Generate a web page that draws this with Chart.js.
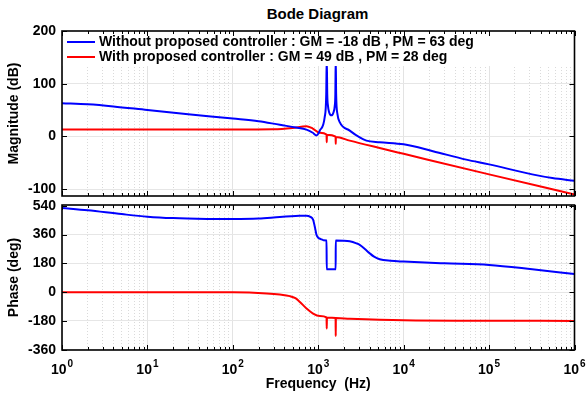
<!DOCTYPE html>
<html>
<head>
<meta charset="utf-8">
<script src="https://cdn.jsdelivr.net/npm/chart.js@4.4.1/dist/chart.umd.min.js"></script>
<style>
  html, body { margin: 0; padding: 0; background: #fff; }
  #wrap { position: relative; width: 586px; height: 398px; overflow: hidden; }
  #title { position: absolute; left: 217px; width: 201px; top: 5px; line-height: 17px;
           text-align: center; font: bold 15px "Liberation Sans", Arial, sans-serif; color: #000; }
  canvas { position: absolute; left: 0; }
  #magCanvas { top: 0; }
  #phaseCanvas { top: 200px; }
</style>
</head>
<body>
<div id="wrap">
  <div id="title">Bode Diagram</div>
  <canvas id="magCanvas" width="586" height="200"></canvas>
  <canvas id="phaseCanvas" width="586" height="198"></canvas>
</div>
<script>
/* Bode diagram: magnitude (top) and phase (bottom), log frequency axis 1 Hz .. 1 MHz
   Values. */

const FONT = '"Liberation Sans", Arial, sans-serif';
const BLUE = '#0000ff';
const RED = '#ff0000';

const legendLabels = [
  'Without proposed controller : GM = -18 dB , PM = 63 deg',
  'With proposed controller : GM = 49 dB , PM = 28 deg'
];

// axes
const decadeExponents = [0, 1, 2, 3, 4, 5, 6];
const minorMultipliers = [1, 2, 3, 4, 5, 6, 7, 8, 9];
const magTicks = [-100, 0, 100, 200];
const phaseTicks = [-360, -180, 0, 180, 360, 540];

// without controller: magnitude (dB)
const blueMagFreq = [1, 2, 4, 10, 30, 100, 200, 355, 550, 728, 863, 953, 1000, 1042, 1191, 1240, 1257, 1275, 1300, 1340, 1426, 1510, 1560, 1585, 1602, 1620, 1680, 1784, 2336, 3057, 3663, 5237, 10000, 22000, 54000, 100000, 320000, 550000, 1000000];
const blueMagDb   = [63, 61, 57, 50, 42, 34, 29, 22, 17, 13, 7, 2, 5, 11, 37, 80, 150, 80, 58, 46, 40, 46, 58, 80, 150, 80, 42, 27, 11, -2, -8, -11, -15, -28, -44, -53, -72, -79, -84];

// with controller: magnitude (dB)
const redMagFreq = [1, 100, 300, 500, 728, 863, 1042, 1250, 1257, 1264, 1595, 1602, 1609, 2336, 5237, 10000, 100000, 1000000];
const redMagDb   = [13, 13, 13.5, 16, 19.5, 15, 7, 3.5, -11, 3, -0.5, -14, -1, -8, -22, -33, -72, -110];

// without controller: phase (deg)
const bluePhFreq = [1, 2, 5, 10, 20, 50, 100, 200, 355, 600, 728, 800, 870, 910, 953, 1000, 1072, 1150, 1250, 1257, 1600, 1602, 2000, 2336, 2800, 3057, 3600, 4000, 4500, 5237, 7000, 10000, 30000, 100000, 320000, 1000000];
const bluePhDeg  = [527, 512, 488, 472, 463, 458, 457, 460, 470, 477, 478, 472, 453, 411, 359, 340, 332, 325, 323, 143, 143, 323, 322, 318, 305, 296, 265, 243, 222, 206, 196, 191, 180, 170, 143, 113];

// with controller: phase (deg)
const redPhFreq = [1, 100, 250, 355, 465, 540, 605, 728, 870, 1042, 1250, 1257, 1264, 1595, 1602, 1609, 2336, 10000, 100000, 1000000];
const redPhDeg  = [0, -1, -8, -15, -25, -38, -60, -102, -134, -149, -158, -228, -158, -162, -275, -162, -166, -176, -179, -180];

const xTickValues = [];
decadeExponents.forEach(e => {
  minorMultipliers.forEach(m => {
    const v = m * Math.pow(10, e);
    if (v <= 1e6) xTickValues.push(v);
  });
});

function isDecade(v) {
  const l = Math.log10(v);
  return Math.abs(l - Math.round(l)) < 1e-9;
}

function pts(xs, ys) {
  return xs.map((x, i) => ({ x: x, y: ys[i] }));
}

function series(data, color) {
  return {
    data: data,
    borderColor: color,
    borderWidth: 2,
    pointRadius: 0,
    fill: false,
    cubicInterpolationMode: 'monotone'
  };
}

// black box with inward tick marks on all four sides
const framePlugin = {
  id: 'frame',
  afterDraw(chart) {
    const { ctx, chartArea: a } = chart;
    const x = chart.scales.x, y = chart.scales.y;
    ctx.save();
    ctx.strokeStyle = '#000';
    ctx.lineWidth = 1;
    ctx.beginPath();
    x.ticks.forEach(t => {
      const px = Math.round(x.getPixelForValue(t.value)) + 0.5;
      const len = isDecade(t.value) ? 5 : 3;
      ctx.moveTo(px, a.top); ctx.lineTo(px, a.top + len);
      ctx.moveTo(px, a.bottom); ctx.lineTo(px, a.bottom - len);
    });
    y.ticks.forEach(t => {
      const py = Math.round(y.getPixelForValue(t.value)) + 0.5;
      ctx.moveTo(a.left, py); ctx.lineTo(a.left + 5, py);
      ctx.moveTo(a.right, py); ctx.lineTo(a.right - 5, py);
    });
    ctx.stroke();
    ctx.lineWidth = 1.6;
    ctx.strokeRect(a.left, a.top, a.right - a.left, a.bottom - a.top);
    ctx.restore();
  }
};

// legend sits inside the top plot on a white band
const legendPlugin = {
  id: 'insideLegend',
  afterDatasetsDraw(chart) {
    const { ctx, chartArea: a } = chart;
    ctx.save();
    ctx.fillStyle = '#fff';
    ctx.fillRect(a.left, a.top, a.right - a.left, 35);
    const rows = [
      { text: legendLabels[0], color: chart.data.datasets[0].borderColor, y: a.top + 11 },
      { text: legendLabels[1], color: chart.data.datasets[1].borderColor, y: a.top + 26 }
    ];
    ctx.font = 'bold 14px ' + FONT;
    ctx.textBaseline = 'middle';
    ctx.textAlign = 'left';
    rows.forEach(r => {
      ctx.strokeStyle = r.color;
      ctx.lineWidth = 2;
      ctx.beginPath();
      ctx.moveTo(a.left + 5, r.y);
      ctx.lineTo(a.left + 33, r.y);
      ctx.stroke();
      ctx.fillStyle = '#000';
      ctx.fillText(r.text, a.left + 37, r.y + 0.5);
    });
    ctx.restore();
  }
};

// 10^n labels with raised exponent under the phase plot
const decadeLabelPlugin = {
  id: 'decadeLabels',
  afterDraw(chart) {
    const { ctx, chartArea: a } = chart;
    const x = chart.scales.x;
    ctx.save();
    ctx.fillStyle = '#000';
    ctx.textBaseline = 'alphabetic';
    ctx.textAlign = 'left';
    decadeExponents.forEach(e => {
      const px = x.getPixelForValue(Math.pow(10, e));
      ctx.font = 'bold 14px ' + FONT;
      const wb = ctx.measureText('10').width;
      ctx.font = 'bold 10px ' + FONT;
      const we = ctx.measureText(String(e)).width;
      const x0 = px - (wb + we + 1) / 2;
      ctx.font = 'bold 14px ' + FONT;
      ctx.fillText('10', x0, a.bottom + 24);
      ctx.font = 'bold 10px ' + FONT;
      ctx.fillText(String(e), x0 + wb + 1, a.bottom + 17);
    });
    ctx.restore();
  }
};

function makeBode(canvas, opts) {
  return new Chart(canvas, {
    type: 'line',
    data: { datasets: opts.datasets },
    options: {
      responsive: false,
      animation: false,
      parsing: false,
      normalized: true,
      layout: { padding: opts.padding },
      plugins: { legend: { display: false }, tooltip: { enabled: false }, title: { display: false } },
      scales: {
        x: {
          type: 'logarithmic',
          min: 1,
          max: 1e6,
          afterBuildTicks: s => { s.ticks = xTickValues.map(v => ({ value: v })); },
          afterFit: s => { s.height = opts.xHeight; s.paddingLeft = 0; s.paddingRight = 0; },
          ticks: { display: false },
          grid: {
            drawTicks: false,
            lineWidth: 1,
            color: c => (c.tick && isDecade(c.tick.value)) ? '#e3e3e3' : '#dadada'
          },
          border: {
            display: false,
            dash: c => (c.tick && isDecade(c.tick.value)) ? [] : [1, 2]
          },
          title: opts.xTitle
            ? { display: true, text: opts.xTitle, color: '#000', font: { family: FONT, size: 14, weight: 'bold' }, padding: { top: 0, bottom: 5 } }
            : { display: false }
        },
        y: {
          type: 'linear',
          min: opts.yMin,
          max: opts.yMax,
          afterBuildTicks: s => { s.ticks = opts.yTicks.map(v => ({ value: v })); },
          afterFit: s => { s.width = 62; s.paddingTop = 0; s.paddingBottom = 0; },
          ticks: { color: '#000', padding: 6, font: { family: FONT, size: 14, weight: 'bold' } },
          grid: { drawTicks: false, color: '#e6e6e6', lineWidth: 1 },
          border: { display: false },
          title: { display: true, text: opts.yTitle, color: '#000', font: { family: FONT, size: 14, weight: 'bold' }, padding: { top: 6, bottom: 0 } }
        }
      }
    },
    plugins: opts.plugins
  });
}

makeBode(document.getElementById('magCanvas'), {
  datasets: [
    series(pts(blueMagFreq, blueMagDb), BLUE),
    series(pts(redMagFreq, redMagDb), RED)
  ],
  padding: { top: 31, right: 11.5, bottom: 4, left: 0 },
  xHeight: 0,
  yMin: -113, yMax: 200, yTicks: magTicks,
  yTitle: 'Magnitude (dB)',
  plugins: [legendPlugin, framePlugin]
});

makeBode(document.getElementById('phaseCanvas'), {
  datasets: [
    series(pts(bluePhFreq, bluePhDeg), BLUE),
    series(pts(redPhFreq, redPhDeg), RED)
  ],
  padding: { top: 5, right: 11.5, bottom: 0, left: 0 },
  xHeight: 48,
  xTitle: 'Frequency  (Hz)',
  yMin: -362, yMax: 545, yTicks: phaseTicks,
  yTitle: 'Phase (deg)',
  plugins: [framePlugin, decadeLabelPlugin]
});
</script>
</body>
</html>
